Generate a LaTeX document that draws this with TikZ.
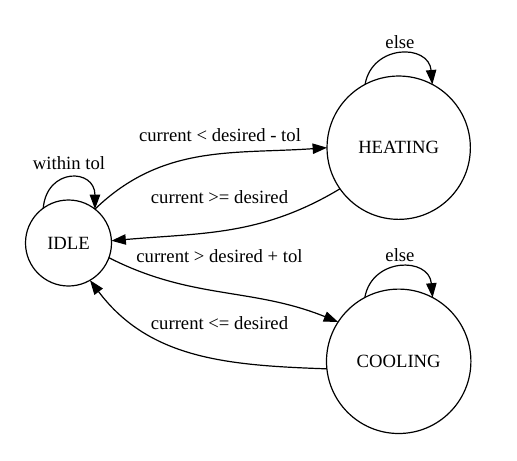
\documentclass[tikz,border=0pt]{standalone}
\usepackage{fontspec}
\setmainfont{Liberation Serif}
\usetikzlibrary{arrows.meta}
\begin{document}
\begin{tikzpicture}[x=0.75pt,y=0.75pt,
  state/.style={draw,circle,line width=0.9pt,inner sep=0pt,outer sep=0pt,font=\fontsize{14}{16}\selectfont},
  edge/.style={draw,line width=0.9pt,-{Triangle[length=10.8pt,width=7.8pt]}},
  lbl/.style={inner sep=0pt,font=\fontsize{14}{16}\selectfont}]
\useasboundingbox[fill=white] (0,0) rectangle (517,-460);
\node[state,minimum size=64.5pt] (idle) at (68.5,-243) {IDLE};
\node[state,minimum size=107.5pt] (heat) at (398.7,-147.7) {HEATING};
\node[state,minimum size=108.3pt] (cool) at (398.7,-361.3) {COOLING};
% transitions
\draw[edge] (idle.52) to[out=44,in=184] (heat.180);
\draw[edge] (heat.215) to[out=211,in=5] (idle.3);
\draw[edge] (idle.-20) to[out=-27,in=158] (cool.147);
\draw[edge] (cool.186) to[out=178,in=-53] (idle.-60);
% self loops
\draw[edge] (idle.126) .. controls +(85:41) and +(90:41) .. (idle.52);
\draw[edge] (heat.118) .. controls +(80:41) and +(95:41) .. (heat.62);
\draw[edge] (cool.118) .. controls +(80:41) and +(95:41) .. (cool.62);
% labels
\node[lbl] (l1) at (220,-135) {current < desired - tol};
\node[lbl] (l2) at (219.5,-197.3) {current >= desired};
\node[lbl] (l3) at (219.5,-256) {current > desired + tol};
\node[lbl] (l4) at (219.5,-322.7) {current <= desired};
\node[lbl] (l5) at (69,-163) {within tol};
\node[lbl] (l6) at (400,-42) {else};
\node[lbl] (l7) at (400,-255.5) {else};
\end{tikzpicture}
\end{document}
